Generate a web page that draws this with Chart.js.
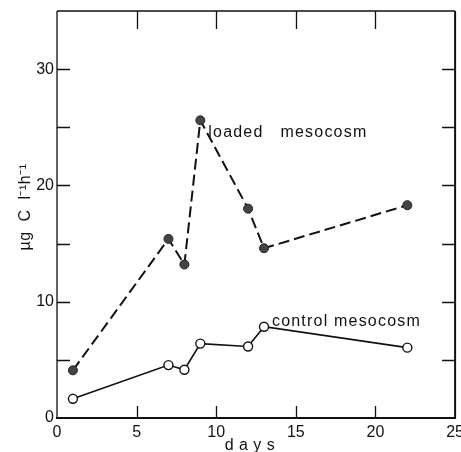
<!DOCTYPE html>
<html>
<head>
<meta charset="utf-8">
<script src="https://cdn.jsdelivr.net/npm/chart.js@4/dist/chart.umd.min.js"></script>
<style>
  html, body { margin: 0; padding: 0; background: #fff; }
  #wrap { width: 461px; height: 452px; }
</style>
</head>
<body>
<div id="wrap"><canvas id="c" width="461" height="452"></canvas></div>
<script>
// days of sampling
const days = [1, 7, 8, 9, 12, 13, 22];
// primary production, µg C l-1 h-1
const loaded = [4.1, 15.4, 13.2, 25.6, 18.0, 14.6, 18.3];
const control = [1.65, 4.55, 4.15, 6.4, 6.15, 7.85, 6.05];

const xTicks = [0, 5, 10, 15, 20, 25];
const yTicks = [0, 5, 10, 15, 20, 25, 30];
const yLabelled = [0, 10, 20, 30];

// series labels: [text, day, value]
const seriesLabels = [
  ["loaded   mesocosm", 9.5, 24.2],
  ["control mesocosm", 13.5, 7.9],
];

const FONT = "'Liberation Sans', Arial, sans-serif";

const toPts = (xs, ys) => xs.map((x, i) => ({ x, y: ys[i] }));

// frame, inward ticks and the text annotations
const decor = {
  id: "decor",
  afterDraw(chart) {
    const { ctx, chartArea: a, scales } = chart;
    const sx = scales.x, sy = scales.y;
    ctx.save();
    ctx.strokeStyle = "#111";

    // frame
    ctx.lineWidth = 1.3;
    ctx.beginPath();
    ctx.moveTo(a.left, a.top);
    ctx.lineTo(a.right, a.top);
    ctx.moveTo(a.left, a.top);
    ctx.lineTo(a.left, a.bottom);
    ctx.stroke();
    ctx.lineWidth = 2;
    ctx.beginPath();
    ctx.moveTo(a.left - 1, a.bottom);
    ctx.lineTo(a.right, a.bottom);
    ctx.lineTo(a.right, a.top);
    ctx.stroke();

    // ticks pointing inward
    ctx.lineWidth = 1.3;
    ctx.beginPath();
    yTicks.forEach((v) => {
      const y = Math.round(sy.getPixelForValue(v)) + 0.5;
      if (v === 0) return;
      ctx.moveTo(a.left, y); ctx.lineTo(a.left + 13, y);
      ctx.moveTo(a.right, y); ctx.lineTo(a.right - 13, y);
    });
    xTicks.forEach((v) => {
      if (v === 0 || v === 25) return;
      const x = Math.round(sx.getPixelForValue(v)) + 0.5;
      ctx.moveTo(x, a.bottom); ctx.lineTo(x, a.bottom - 12);
      ctx.moveTo(x, a.top); ctx.lineTo(x, a.top + 18);
    });
    ctx.stroke();

    // series labels
    ctx.fillStyle = "#111";
    ctx.font = "16px " + FONT;
    ctx.textAlign = "left";
    ctx.textBaseline = "alphabetic";
    ctx.letterSpacing = "1.2px";
    seriesLabels.forEach(([t, x, y]) => {
      ctx.fillText(t, sx.getPixelForValue(x), sy.getPixelForValue(y));
    });

    // x axis title
    ctx.font = "16px " + FONT;
    ctx.textAlign = "center";
    ctx.letterSpacing = "0.5px";
    ctx.fillText("d a y s", 250, 450);

    // y axis title
    ctx.translate(30, 207);
    ctx.rotate(-Math.PI / 2);
    ctx.font = "16px " + FONT;
    ctx.letterSpacing = "0.5px";
    ctx.fillText("µg  C  l\u207B\u00B9h\u207B\u00B9", 0, 0);
    ctx.restore();
  },
};

new Chart(document.getElementById("c"), {
  type: "line",
  data: {
    datasets: [
      {
        label: "loaded mesocosm",
        data: toPts(days, loaded),
        borderColor: "#111",
        borderWidth: 2,
        borderDash: [11, 5],
        pointRadius: 4.5,
        pointBackgroundColor: "#444",
        pointBorderColor: "#222",
        pointBorderWidth: 1,
        tension: 0,
      },
      {
        label: "control mesocosm",
        data: toPts(days, control),
        borderColor: "#111",
        borderWidth: 1.6,
        pointRadius: 4.5,
        pointBackgroundColor: "#fff",
        pointBorderColor: "#111",
        pointBorderWidth: 1.4,
        tension: 0,
      },
    ],
  },
  options: {
    responsive: false,
    animation: false,
    layout: { padding: { top: 11, right: 5, left: 0, bottom: 0 } },
    plugins: { legend: { display: false }, tooltip: { enabled: false } },
    scales: {
      x: {
        type: "linear",
        min: 0,
        max: 25,
        afterBuildTicks: (s) => { s.ticks = xTicks.map((v) => ({ value: v })); },
        afterFit: (s) => { s.height = 34; s.paddingLeft = 0; s.paddingRight = 0; },
        grid: { display: false, drawTicks: false },
        border: { display: false },
        ticks: {
          color: "#111",
          padding: 5,
          font: { family: FONT, size: 16 },
          maxRotation: 0,
        },
      },
      y: {
        min: 0,
        max: 35,
        afterBuildTicks: (s) => { s.ticks = yTicks.map((v) => ({ value: v })); },
        afterFit: (s) => { s.width = 57; s.paddingTop = 0; s.paddingBottom = 0; },
        grid: { display: false, drawTicks: false },
        border: { display: false },
        ticks: {
          color: "#111",
          padding: 3,
          font: { family: FONT, size: 16 },
          callback: (v) => (yLabelled.includes(v) ? String(v) : ""),
        },
      },
    },
  },
  plugins: [decor],
});
</script>
</body>
</html>
